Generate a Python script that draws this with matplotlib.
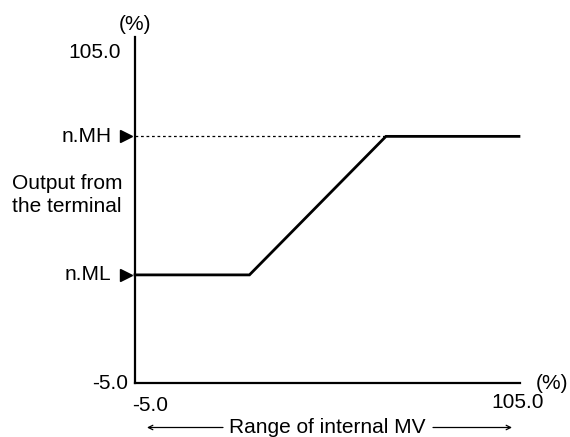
import matplotlib
matplotlib.use("Agg")
import matplotlib.pyplot as plt
from matplotlib.transforms import offset_copy

plt.rcParams['font.family'] = ['Liberation Sans', 'DejaVu Sans']

# Output characteristic: internal MV (%) -> terminal output (%)
mv = [-5.0, 27.7, 66.7, 104.7]
out = [31.0, 31.0, 77.0, 77.0]
out_low = 31.0    # n.ML
out_high = 77.0   # n.MH
mv_at_high = 66.7
x_min, x_max = -5.0, 105.0
y_min, y_max = -5.0, 110.0
y_top_label = 105.0

fig = plt.figure(figsize=(5.7, 4.37), dpi=100)
ax = fig.add_axes([135 / 570, (437 - 383.3) / 437, 385 / 570, 346.3 / 437])
ax.set_xlim(x_min, x_max)
ax.set_ylim(y_min, y_max)
for s in ('top', 'right'):
    ax.spines[s].set_visible(False)
for s in ('left', 'bottom'):
    ax.spines[s].set_linewidth(1.6)
    ax.spines[s].set_color('black')
ax.set_xticks([])
ax.set_yticks([])

ax.plot(mv, out, color='black', lw=2.0, solid_joinstyle='miter', clip_on=False)
ax.plot([x_min, mv_at_high], [out_high, out_high], color='black', lw=0.9,
        linestyle=(0, (2.2, 2.2)))

fs = 15
# y-axis labels
ax.annotate('105.0', xy=(x_min, y_top_label), xytext=(-10, 0), textcoords='offset points',
            ha='right', va='center', fontsize=fs)
ax.annotate('-5.0', xy=(x_min, y_min), xytext=(-5, 0), textcoords='offset points',
            ha='right', va='center', fontsize=fs)
ax.annotate('(%)', xy=(x_min, y_max), xytext=(0, 2), textcoords='offset points',
            ha='center', va='bottom', fontsize=fs)
for lbl, val in (('n.MH', out_high), ('n.ML', out_low)):
    ax.annotate(lbl, xy=(x_min, val), xytext=(-17, 0), textcoords='offset points',
                ha='right', va='center', fontsize=fs)
    ax.plot([x_min], [val], marker='>', color='black', markersize=9, clip_on=False,
            transform=offset_copy(ax.transData, fig=fig, x=-6.5, y=0, units='points'))
fig.text(12 / 570, (437 - 195) / 437, 'Output from\nthe terminal',
         ha='left', va='center', fontsize=fs, linespacing=1.3)

# x-axis labels
ax.annotate('-5.0', xy=(x_min, y_min), xytext=(11, -16), textcoords='offset points',
            ha='center', va='center', fontsize=fs)
ax.annotate('105.0', xy=(x_max, y_min), xytext=(-2, -14), textcoords='offset points',
            ha='center', va='center', fontsize=fs)
ax.annotate('(%)', xy=(x_max, y_min), xytext=(23, 0), textcoords='offset points',
            ha='center', va='center', fontsize=fs)

# MV range indicator
yr = (437 - 427.5) / 437
fig.text(327 / 570, yr, 'Range of internal MV', ha='center', va='center', fontsize=fs)
arrow = dict(arrowstyle='->', lw=0.9, color='black', shrinkA=0, shrinkB=0,
             mutation_scale=8)
fig.add_artist(matplotlib.patches.FancyArrowPatch((223 / 570, yr), (147 / 570, yr),
                                                  transform=fig.transFigure, **arrow))
fig.add_artist(matplotlib.patches.FancyArrowPatch((433 / 570, yr), (512 / 570, yr),
                                                  transform=fig.transFigure, **arrow))

fig.savefig('out.png', dpi=100)
